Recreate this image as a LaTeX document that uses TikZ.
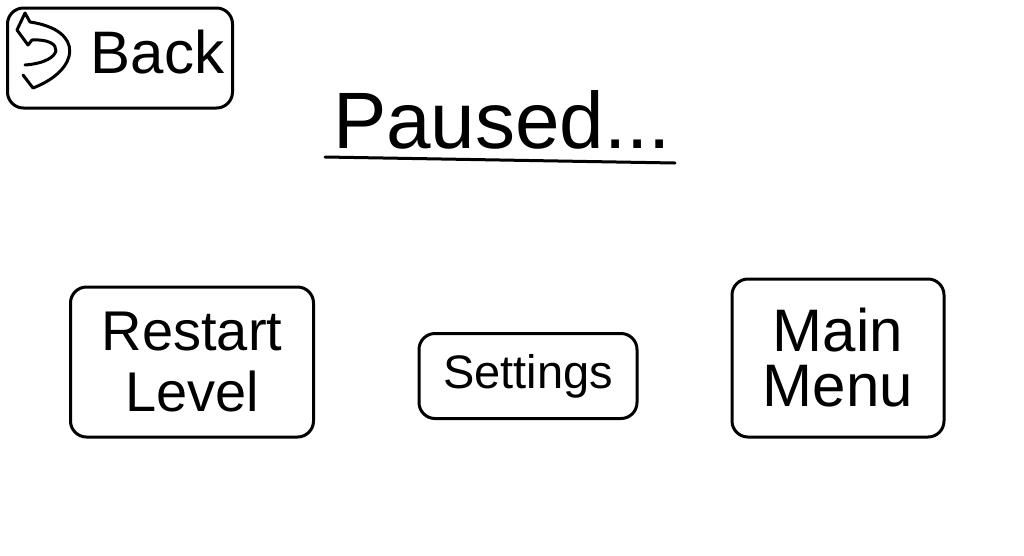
\documentclass[tikz,border=0pt]{standalone}
\usepackage{fontspec}
\setmainfont{Liberation Sans}
\begin{document}
\begin{tikzpicture}[x=1pt,y=-1pt,line width=3pt,line join=round,line cap=round,
		button/.style={draw=black,rounded corners=16pt,align=center,inner sep=0pt},
		btntext/.style={font=\fontsize{#1}{#1}\selectfont}]
			\useasboundingbox (0,0) rectangle (1024,555);
			% back button and its arrow
			\node[button,minimum width=225pt,minimum height=100pt] (back) at (120,58) {};
			\draw (23,75) -- (33,88) .. controls (80,70) and (85,30) .. (30,22) -- (25,13) -- (17,30) -- (28,45) -- (32,40) .. controls (65,38) and (65,62) .. (25,65);
			\node[btntext=60pt,anchor=west] (backtext) at (86,52) {Back};
			% title
			\node[btntext=80pt] (title) at (502,120) {Paused...};
			\coordinate (ul1) at (325,157);
			\coordinate (ul2) at (675,163);
			\draw (ul1) -- (ul2);
			% menu buttons
			\node[button,minimum width=243pt,minimum height=150pt,font=\fontsize{56pt}{60pt}\selectfont] (restart) at (192,362) {Restart\\Level};
			\node[button,minimum width=218pt,minimum height=85pt,btntext=47pt] (settings) at (528,376) {Settings};
			\node[button,minimum width=212pt,minimum height=158pt,font=\fontsize{60pt}{55pt}\selectfont] (mainmenu) at (838,358) {Main\\Menu};
		\end{tikzpicture}
\end{document}
